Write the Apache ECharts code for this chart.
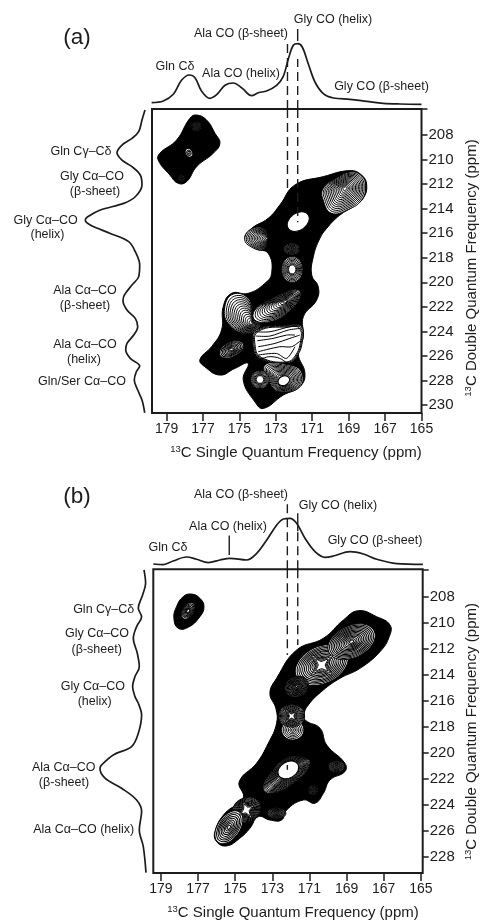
<!DOCTYPE html>
<html><head><meta charset="utf-8">
<style>html,body{margin:0;padding:0;background:#fff}#c{width:481px;height:922px}</style>
<script src="https://cdn.jsdelivr.net/npm/echarts@6/dist/echarts.min.js"></script></head>
<body><div id="c"></div><script>
// projections: [ppm, height]
const topSpectrumA=[[179.82,6.3],[179.18,8],[178.63,14.7],[178.18,28.7],[177.75,34],[177.44,31.3],[177.08,18],[176.62,10.7],[176.25,14.3],[175.79,23.7],[175.34,26],[174.88,21.3],[174.33,13.3],[173.96,16.3],[173.51,18],[172.96,23.7],[172.59,32.7],[172.31,50.3],[172.04,63.7],[171.8,65.3],[171.55,62],[171.22,45.3],[170.85,27],[170.39,15.3],[169.84,11],[168.93,9.7],[168.01,7.7],[167.1,5.7],[166.18,5],[165,4.7]];
const topSpectrumB=[[179.41,5.3],[178.87,4.7],[178.34,8.3],[177.62,12.3],[177.08,10],[176.45,6.7],[175.82,9.3],[175.28,11],[174.38,9.3],[173.84,16],[173.3,29.3],[172.76,44.3],[172.41,50.3],[172.05,51],[171.69,46],[171.24,31],[170.7,17.7],[170.16,12],[169.71,13.3],[168.81,17.7],[168.09,15.3],[167.37,10],[166.3,5.7],[164.89,5]];
// [height, ppm]
const leftSpectrumA=[[7,205.96],[10,206.78],[13.3,207.73],[20,208.27],[30,208.82],[35,209.44],[30,210.04],[20,210.58],[11.7,211.26],[10,212.08],[16.7,213.03],[28.3,213.57],[51.7,214.11],[64.3,214.66],[66.7,214.93],[61.7,215.34],[41.7,216.02],[23.3,216.69],[16.7,217.51],[12.3,218.59],[13.3,219.54],[20,220.22],[27.7,221.04],[29,221.5],[25,222.26],[16.7,222.94],[14.3,223.62],[18.3,224.3],[25,224.98],[26.3,225.52],[21.7,226.2],[12.3,226.83],[15.7,227.29],[17.7,227.97],[14.3,228.78],[10,229.6],[7.3,230.63]];
const leftSpectrumB=[[9.3,205.95],[7.7,206.98],[10.7,207.87],[15,208.9],[11.7,209.54],[16.7,210.3],[20,211.2],[16,212.35],[14,213.38],[18.3,214.14],[20.7,214.91],[18.3,215.68],[15,216.19],[11.7,217.09],[15,218.5],[21.7,219.52],[40,220.16],[51.7,220.93],[53.3,221.19],[48.3,221.95],[31.7,222.72],[16.7,223.62],[11.7,224.51],[14,225.92],[10,227.2],[7.3,229.2]];

const xTicks=[165,167,169,171,173,175,177,179];
const yTicksA=[208,210,212,214,216,218,220,222,224,226,228,230];
const yTicksB=[208,210,212,214,216,218,220,222,224,226,228];

const RING=[1,.93,.86,.79,.72,.65,.58,.51,.44,.37,.3,.23,.16,.09];
const OPEN=[1,.88,.77,.66,.55,.44,.33,.22,.12];
const GRAY=[1,.85,.7,.55,.4,.25,.12];
const DARK=[1,.96,.92,.88,.84,.8,.76,.72,.68,.64,.6,.56,.52,.48,.44,.4,.36,.32];

// contour outlines in ppm (x single-quantum, y double-quantum)
const contoursA=[
 {c:[177.8,209.2],s:[1],fill:'#000',p:[[177.35,206.37],[176.8,206.78],[176.34,207.86],[176.07,208.68],[176.44,209.49],[177.35,210.58],[177.9,211.8],[178.36,211.94],[178.82,211.26],[179.46,210.04],[179.37,209.49],[178.45,208.41],[177.72,206.64]]},
 {c:[171.5,220],s:[1],fill:'#000',p:[[168.93,210.9],[168.29,211.26],[168.01,212.07],[168.2,213.16],[168.75,213.84],[169.48,214.52],[170.21,215.61],[170.58,216.42],[170.94,217.92],[171.03,219.41],[170.67,220.36],[170.76,221.45],[171.49,222.81],[171.49,224.44],[171.77,225.8],[171.4,227.43],[171.68,228.51],[172.59,229.19],[173.69,230.28],[174.15,229.74],[174.79,227.97],[174.52,226.61],[175.25,227.02],[176.07,227.56],[176.9,226.88],[177.17,226.29],[176.53,225.25],[175.98,223.89],[175.89,221.99],[175.43,220.9],[174.52,220.9],[173.6,220.09],[173.23,219.27],[173.42,217.64],[174.15,217.24],[174.7,216.42],[174.33,215.61],[173.42,214.79],[172.78,213.7],[171.95,212.07],[170.39,211.39]]},
 {c:[177.35,207.32],s:GRAY,rx:.27,ry:.27,deg:0,gray:1},
 {c:[178.18,211.53],s:GRAY,rx:.2,ry:.2,deg:0,gray:1},
 {c:[177.77,209.44],s:[1,.6,.3],rx:.19,ry:.25,deg:30},
 {c:[169.2,212.34],s:RING,p:[[168.89,211.01],[168.29,211.34],[168.07,212.15],[168.29,213.3],[169.02,214.06],[169.94,214.38],[170.4,213.3],[170.4,212.35],[169.66,211.53]]},
 {c:[173.47,216.42],s:RING,p:[[173.69,215.61],[174.33,215.66],[174.7,216.34],[174.52,216.96],[173.69,217.32],[173.47,216.42]]},
 {c:[172.13,217.29],s:GRAY,rx:.44,ry:.33,deg:0,gray:1},
 {c:[172.1,218.95],s:[1,.9,.8,.7,.6,.5,.42,.35],rx:.58,ry:.71,deg:0},
 {c:[174.33,223.35],s:RING,p:[[175.34,220.96],[174.52,221.31],[174.15,222.81],[173.87,223.62],[174.61,224.17],[175.61,223.35],[175.8,221.99]]},
 {c:[172.87,225.25],s:[1,.96,.92],p:[[174.06,223.89],[172.23,223.49],[171.6,223.62],[171.53,224.71],[171.86,226.07],[172.41,226.61],[173.87,226.2],[174.24,225.25]]},
 {c:[172.87,225.25],s:[],l:[[[174.15,224.03],[173.32,224.03],[172.23,223.62],[171.68,223.57]],[[174.09,224.38],[173.32,224.38],[172.32,223.89],[171.64,223.76]],[[174.02,224.76],[173.14,224.57],[172.41,224.3],[171.95,224.3]],[[173.97,225.25],[173.05,224.98],[172.23,224.57],[171.68,224.3]],[[173.97,225.66],[172.78,225.25],[172.13,225.25],[171.68,224.8]],[[173.97,225.93],[172.96,225.8],[172.41,226.2],[171.95,225.25]],[[174.15,226.48],[173.42,226.07],[172.78,226.2],[172.13,226.88]],[[173.69,226.61],[172.78,226.61],[171.86,226.61]]]},
 {c:[172.45,221.53],s:RING,p:[[171.77,220.63],[171.68,221.31],[172.41,222.54],[173.32,223.21],[174.15,223.08],[174.15,222.26],[173.32,221.45],[172.41,220.77]]},
 {c:[175.43,225.47],s:[1,.88,.76,.64,.52,.4,.28,.16],rx:.71,ry:.41,deg:25},
 {c:[172.56,228.02],s:RING,p:[[173.6,226.75],[172.23,226.75],[171.6,227.29],[171.68,228.51],[172.78,228.92],[173.32,228.24]]},
 {c:[172.56,228.02],s:[1],rx:.33,ry:.25,deg:25},
 {c:[173.87,227.92],s:[1,.9,.8,.7,.6,.5,.42],rx:.5,ry:.5,deg:0},
 {c:[171.77,215.06],s:[1],rx:.66,ry:.47,deg:35}
];
const contoursB=[
 {c:[177.5,209.1],s:[1],fill:'#000',p:[[177.35,207.8],[176.9,208.13],[176.68,208.77],[176.9,209.54],[177.53,210.36],[178.07,210.43],[178.3,209.66],[178.16,208.77],[177.8,208]]},
 {c:[171,218],s:[1],fill:'#000',p:[[168.37,209.08],[167.38,209.54],[166.66,210.18],[166.7,211.07],[167.2,212.23],[168.28,213.51],[169.35,214.27],[170.25,215.17],[171.06,216.32],[171.3,217.09],[171.19,217.53],[170.43,218.11],[170.07,219.4],[169.09,220.8],[169.09,221.44],[169.89,222.08],[170.25,223.11],[170.7,223.87],[171.33,223.62],[172.23,224.39],[172.5,225.16],[173.13,225.16],[173.76,224.9],[174.21,225.8],[174.75,226.56],[175.46,227.15],[176,226.82],[176.09,226.05],[175.55,224.64],[174.57,223.49],[174.78,222.21],[173.85,220.8],[173.22,219.27],[172.77,217.73],[172.81,216.58],[173.13,215.43],[172.77,214.27],[171.69,212.1],[170.25,211.2],[169.17,209.79]]},
 {c:[177.53,209.1],s:[1,.85,.7,.55,.4,.3,.22],rx:.49,ry:.3,deg:60},
 {c:[170.34,213.25],s:RING,rx:1.5,ry:1,deg:25},
 {c:[168.73,211.46],s:RING,rx:1.35,ry:.86,deg:25},
 {c:[170.34,213.25],s:[.5,.4,.3],sm:.2,p:[[171.42,211.71],[170.43,212.35],[169.17,211.71],[169.71,213.25],[169.27,214.79],[170.34,214.2],[171.42,214.79],[170.97,213.25]]},
 {c:[171.69,214.91],s:RING,rx:.65,ry:.54,deg:25},
 {c:[171.9,218.24],s:GRAY,rx:.6,ry:.54,deg:0},
 {c:[171.96,217.17],s:RING,rx:.7,ry:.6,deg:0},
 {c:[171.96,217.17],s:[.8,.6,.45],sm:.2,p:[[172.41,216.5],[171.96,216.83],[171.51,216.5],[171.69,217.17],[171.51,217.86],[171.96,217.53],[172.41,217.86],[172.23,217.17]]},
 {c:[170.8,222.85],s:GRAY,rx:.27,ry:.27,deg:0,gray:1},
 {c:[169.54,221.06],s:GRAY,rx:.43,ry:.32,deg:0,gray:1},
 {c:[172.77,224.64],s:GRAY,rx:.5,ry:.3,deg:0,gray:1},
 {c:[172.14,221.31],s:DARK,p:[[171.6,220.29],[170.97,220.8],[171.87,222.34],[173.13,223.11],[173.49,222.6],[172.95,221.31],[172.23,220.42]]},
 {c:[172.14,221.31],s:[1],rx:.6,ry:.43,deg:30},
 {c:[174.39,224.39],s:RING,rx:.8,ry:.65,deg:30},
 {c:[175.34,225.72],s:OPEN,rx:1,ry:.6,deg:55},
 {c:[174.39,224.39],s:[.6,.45],sm:.2,p:[[174.66,223.36],[174.3,223.88],[173.76,223.88],[174.06,224.52],[173.94,225.41],[174.48,224.9],[175.01,225.03],[174.75,224.26]]}
];
// guide lines: [ppm, fromValue, toValue]
const guideDashesTopA=[[172.36,0,66],[171.8,0,50]];
const guideTicksTopA=[[171.8,68,80]];
const guideDashesMainA=[[172.36,205.88,212.73],[171.8,205.88,215.1]];
const guideDashesTopB=[[172.19,0,66],[171.63,0,38]];
const guideTicksTopB=[[171.63,38,56],[175.32,14.3,33.7]];
const guideDashesMainB=[[172.19,205.9,212.48],[171.63,205.9,211.71]];
const guideTicksMainB=[[172.19,220.93,221.3]];

// text labels
const F='"Liberation Sans",Arial,sans-serif';
const labels=[
 ['(a)',77,38,22.5],['Gly CO (helix)',333,20],['Ala CO (β-sheet)',241,34],['Gln Cδ',175,67],['Ala CO (helix)',241,74],['Gly CO (β-sheet)',381.5,87],
 ['Gln Cγ–Cδ',81,152],['Gly Cα–CO',92,177],['(β-sheet)',95,192],['Gly Cα–CO',45.7,221],['(helix)',47.5,235],
 ['Ala Cα–CO',85,290.7],['(β-sheet)',85,306],['Ala Cα–CO',85,345],['(helix)',84,360],['Gln/Ser Cα–CO',82,381.7],
 ['(b)',77,496.7,22.5],['Ala CO (β-sheet)',241,495],['Gly CO (helix)',338,505.7],['Ala CO (helix)',228,527],['Gln Cδ',168,547.7],['Gly CO (β-sheet)',375,540.7],
 ['Gln Cγ–Cδ',103.7,609.3],['Gly Cα–CO',97,634],['(β-sheet)',96.7,650],['Gly Cα–CO',92.8,686.7],['(helix)',94.7,702],
 ['Ala Cα–CO',63.7,767.3],['(β-sheet)',64,782.3],['Ala Cα–CO (helix)',83.7,830]
];
const INK='#1c1c1c';
const graphic=labels.map(l=>({type:'text',x:l[1],y:l[2],silent:true,style:{text:l[0],align:'center',verticalAlign:'middle',fill:INK,font:(l[3]||12.5)+'px '+F}}));
function titleEl(name,x,y,rot){return {type:'text',x,y,rotation:rot,silent:true,style:{text:'{s|13}{t|'+name+'}',align:'center',verticalAlign:'middle',fill:INK,font:'15px '+F,rich:{s:{font:'9.5px '+F,fill:INK,verticalAlign:'top',lineHeight:17},t:{font:'15px '+F,fill:INK,lineHeight:17}}}};}
graphic.push(titleEl('C Single Quantum Frequency (ppm)',296,452.7,0),titleEl('C Double Quantum Frequency (ppm)',472,268,Math.PI/2),
 titleEl('C Single Quantum Frequency (ppm)',293,912.7,0),titleEl('C Double Quantum Frequency (ppm)',472,731.7,Math.PI/2));

const grid=[],xAxis=[],yAxis=[],series=[];
function panel(o){
 const g=grid.length;
 grid.push({left:o.left,top:o.top,width:o.w,height:o.h,show:true,borderColor:INK,borderWidth:2,backgroundColor:'transparent'});
 grid.push({left:o.left,top:o.top-100,width:o.w,height:100});
 grid.push({left:o.left-100,top:o.top,width:100,height:o.h});
 const lbl={color:INK,fontFamily:F};
 xAxis.push({gridIndex:g,type:'value',inverse:true,min:o.xmin,max:o.xmax,position:'bottom',splitLine:{show:false},
  axisLine:{show:false},axisTick:{show:true,length:8,inside:false,lineStyle:{color:INK,width:1.5},customValues:xTicks},
  axisLabel:{show:true,customValues:xTicks,margin:9,fontSize:14,...lbl}});
 yAxis.push({gridIndex:g,type:'value',inverse:true,min:o.ymin,max:o.ymax,position:'right',splitLine:{show:false},
  axisLine:{show:false},axisTick:{show:true,length:6,lineStyle:{color:INK,width:1.5},customValues:[o.ymin].concat(o.yTicks)},
  axisLabel:{show:true,customValues:o.yTicks,margin:7,fontSize:15,...lbl}});
 xAxis.push({gridIndex:g+1,type:'value',inverse:true,min:o.xmin,max:o.xmax,show:false});
 yAxis.push({gridIndex:g+1,type:'value',min:0,max:100,show:false});
 xAxis.push({gridIndex:g+2,type:'value',inverse:true,min:0,max:100,show:false});
 yAxis.push({gridIndex:g+2,type:'value',inverse:true,min:o.ymin,max:o.ymax,show:false});
 const curve={type:'line',smooth:.35,showSymbol:false,silent:true,lineStyle:{color:INK,width:1.7},clip:false};
 series.push({...curve,xAxisIndex:g+1,yAxisIndex:g+1,data:o.top1});
 series.push({...curve,xAxisIndex:g+2,yAxisIndex:g+2,data:o.left1});
 const fs=o.contours;
 series.push({type:'custom',xAxisIndex:g,yAxisIndex:g,silent:true,clip:true,data:fs.map(f=>f.c),encode:{x:0,y:1},
  renderItem(params,api){
   const f=fs[params.dataIndex],kids=[];
   const col=f.fill||'#fff',lw=1;
   f.s.forEach(k=>{
    const st={fill:f.gray?'#666':col,stroke:'#000',lineWidth:lw};
    if(f.p){
     const pts=f.p.map(q=>api.coord([f.c[0]+(q[0]-f.c[0])*k,f.c[1]+(q[1]-f.c[1])*k]));
     kids.push({type:'polygon',shape:{points:pts,smooth:f.sm===undefined?.45:f.sm},style:st});
    }else{
     const ct=api.coord(f.c),sx=api.size([f.rx,0])[0]*k,sy=api.size([f.ry,0])[0]*k;
     kids.push({type:'ellipse',x:ct[0],y:ct[1],rotation:f.deg*Math.PI/180,shape:{cx:0,cy:0,rx:sx,ry:sy},style:st});
    }
   });
   (f.l||[]).forEach(line=>kids.push({type:'polyline',shape:{points:line.map(q=>api.coord(q)),smooth:.3},style:{fill:null,stroke:'#000',lineWidth:1}}));
   return {type:'group',children:kids};
  }});
 const seg=(a,xi,yi,dash)=>a.forEach(d=>series.push({type:'line',xAxisIndex:xi,yAxisIndex:yi,showSymbol:false,silent:true,clip:false,
   data:[[d[0],d[1]],[d[0],d[2]]],lineStyle:{color:INK,width:1.4,type:dash?[9,5]:'solid'}}));
 seg(o.dashTop,g+1,g+1,true);seg(o.tickTop,g+1,g+1,false);seg(o.dashMain,g,g,true);seg(o.tickMain,g,g,false);
}
panel({left:152,top:109,w:269.5,h:304,xmin:165,xmax:179.8,ymin:205.88,ymax:230.65,yTicks:yTicksA,top1:topSpectrumA,left1:leftSpectrumA,contours:contoursA,dashTop:guideDashesTopA,tickTop:guideTicksTopA,dashMain:guideDashesMainA,tickMain:[]});
panel({left:153.3,top:569.3,w:269.4,h:303.7,xmin:164.9,xmax:179.41,ymin:205.9,ymax:229.23,yTicks:yTicksB,top1:topSpectrumB,left1:leftSpectrumB,contours:contoursB,dashTop:guideDashesTopB,tickTop:guideTicksTopB,dashMain:guideDashesMainB,tickMain:guideTicksMainB});

const chart=echarts.init(document.getElementById('c'),null,{renderer:'canvas'});
chart.setOption({animation:false,backgroundColor:'#fff',grid,xAxis,yAxis,series,graphic:{elements:graphic}});
</script></body></html>
